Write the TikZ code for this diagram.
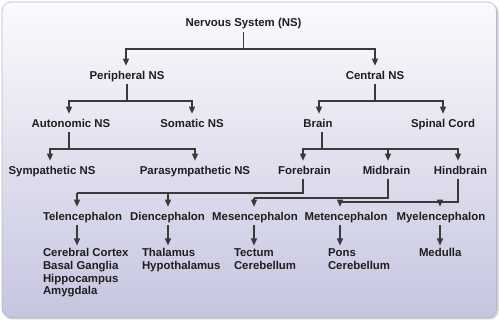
\documentclass[tikz,border=0pt]{standalone}
\usepackage{fontspec}
\setmainfont{Liberation Sans}
\usetikzlibrary{arrows.meta}
\definecolor{txt}{HTML}{1E1E1E}
\definecolor{lnc}{HTML}{3A3A3A}
\definecolor{bgA}{HTML}{FBFBFD}
\definecolor{bgB}{HTML}{C6C5E0}
\definecolor{bord}{HTML}{B9B8CF}
\tikzset{
  lbl/.style={font=\fontsize{11.4}{12.7}\selectfont\bfseries, text=txt,
    text height=8.6pt, text depth=0pt, inner sep=0pt, outer xsep=0pt, outer ysep=5pt},
  lst/.style={font=\fontsize{11.4}{12.7}\selectfont\bfseries, text=txt,
    align=left, inner sep=0pt, outer xsep=0pt, outer ysep=3pt, anchor=north west},
  ln/.style={draw=lnc, line width=1.2pt},
  arr/.style={ln, -{Triangle[width=6pt,length=7pt]}}
}
\begin{document}
\begin{tikzpicture}[x=1pt,y=-1pt]
\useasboundingbox (0,0) rectangle (499,320);
\fill[white] (0,0) rectangle (499,320);
% shadow + background
\fill[black!18, rounded corners=9pt] (3.5,3.5) rectangle (498.5,319.5);
\shade[rounded corners=9pt, shading=axis, shading angle=45, top color=bgA, bottom color=bgB, draw=bord, line width=0.6pt] (2,2) rectangle (496.5,317.5);

% nodes
\node[lbl] (ns)  at (243.5,22.5) {Nervous System (NS)};
\node[lbl] (pns) at (127,75) {Peripheral NS};
\node[lbl] (cns) at (375,75) {Central NS};
\node[lbl] (ans) at (71,123) {Autonomic NS};
\node[lbl] (som) at (192,123) {Somatic NS};
\node[lbl] (br)  at (318,123) {Brain};
\node[lbl] (sc)  at (443,123) {Spinal Cord};
\node[lbl] (sym) at (52,170) {Sympathetic NS};
\node[lbl] (par) at (195,170) {Parasympathetic NS};
\node[lbl] (fb)  at (304.5,170) {Forebrain};
\node[lbl] (mb)  at (386.5,170) {Midbrain};
\node[lbl] (hb)  at (460.5,170) {Hindbrain};
\node[lbl] (tel) at (82.5,216) {Telencephalon};
\node[lbl] (die) at (167.5,216) {Diencephalon};
\node[lbl] (mes) at (255,216) {Mesencephalon};
\node[lbl] (met) at (346,216) {Metencephalon};
\node[lbl] (mye) at (441,216) {Myelencephalon};
\node[lst] (ltel) at (43,245.5) {Cerebral Cortex\\Basal Ganglia\\Hippocampus\\Amygdala};
\node[lst] (ldie) at (142,245.5) {Thalamus\\Hypothalamus};
\node[lst] (lmes) at (234,245.5) {Tectum\\Cerebellum};
\node[lst] (lmet) at (328,245.5) {Pons\\Cerebellum};
\node[lst] (lmye) at (419,245.5) {Medulla};

% bus levels and arrow columns
\coordinate (b1) at (0,49);
\coordinate (b2) at (0,101);
\coordinate (b3) at (0,149);
\coordinate (bf) at (0,193);
\coordinate (bm) at (0,198);
\coordinate (bh) at (0,202);
\coordinate (xpns) at (126,0);
\coordinate (xans) at (69,0);
\coordinate (xbr) at (319,0);
\coordinate (xbrd) at (322,0);
\coordinate (xsym) at (50,0);
\coordinate (xfb) at (303,0);
\coordinate (xmb) at (388,0);
\coordinate (xhb) at (458,0);
\coordinate (xtel) at (77,0);
\coordinate (xdie) at (168,0);
\coordinate (xmes) at (254,0);
\coordinate (xmet) at (340,0);
\coordinate (xmye) at (440,0);

% NS
\draw[ln] (ns.south) -- (ns.south |- b1);
\draw[arr] (ns.south |- b1) -| (xpns |- pns.north);
\draw[arr] (ns.south |- b1) -| (cns.north);
% PNS
\draw[ln] (pns.south) -- (pns.south |- b2);
\draw[arr] (pns.south |- b2) -| (xans |- ans.north);
\draw[arr] (pns.south |- b2) -| (som.north);
% CNS
\draw[ln] (cns.south) -- (cns.south |- b2);
\draw[arr] (cns.south |- b2) -| (xbr |- br.north);
\draw[arr] (cns.south |- b2) -| (sc.north);
% ANS
\draw[ln] (xans |- ans.south) -- (xans |- b3);
\draw[arr] (xans |- b3) -| (xsym |- sym.north);
\draw[arr] (xans |- b3) -| (par.north);
% Brain
\draw[ln] (xbrd |- br.south) -- (xbrd |- b3);
\draw[arr] (xbrd |- b3) -| (xfb |- fb.north);
\draw[arr] (xbrd |- b3) -| (xmb |- mb.north);
\draw[arr] (xbrd |- b3) -| (xhb |- hb.north);
% Forebrain
\draw[ln] (xfb |- fb.south) |- (xtel |- bf);
\draw[arr] (xtel |- bf) -- (xtel |- tel.north);
\draw[arr] (xdie |- bf) -- (xdie |- die.north);
% Midbrain
\draw[ln] (xmb |- mb.south) |- (xmes |- bm);
\draw[arr] (xmes |- bm) -- (xmes |- mes.north);
% Hindbrain
\draw[ln] (xhb |- hb.south) |- (xmet |- bh);
\draw[arr] (xmet |- bh) -- (xmet |- met.north);
\draw[arr] (xmye |- bh) -- (xmye |- mye.north);
% lists
\draw[arr] (xtel |- tel.south) -- (xtel |- ltel.north);
\draw[arr] (xdie |- die.south) -- (xdie |- ldie.north);
\draw[arr] (xmes |- mes.south) -- (xmes |- lmes.north);
\draw[arr] (xmet |- met.south) -- (xmet |- lmet.north);
\draw[arr] (xmye |- mye.south) -- (xmye |- lmye.north);
\end{tikzpicture}
\end{document}
